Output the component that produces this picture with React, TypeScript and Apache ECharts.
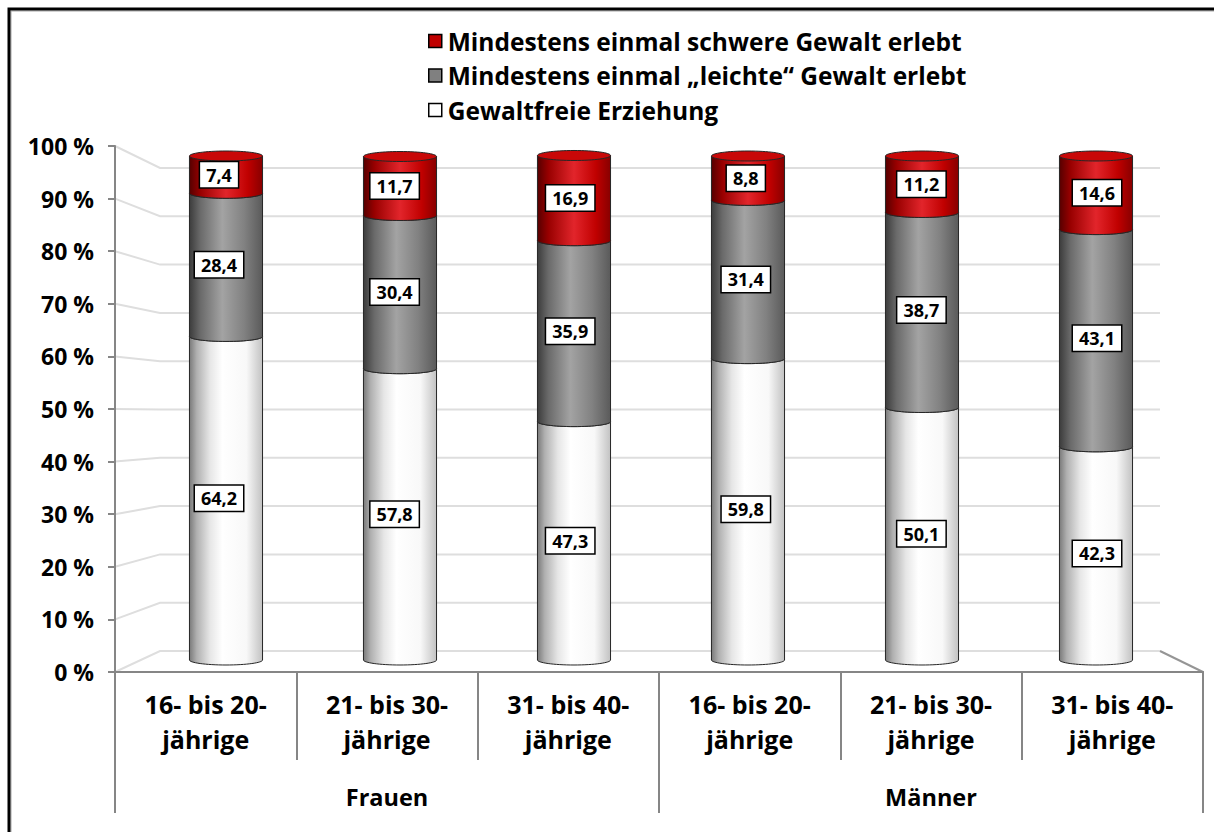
import React, { useEffect, useRef } from 'react';
import * as echarts from 'echarts';

const categories = [
  '16- bis 20-\njährige',
  '21- bis 30-\njährige',
  '31- bis 40-\njährige',
  '16- bis 20-\njährige',
  '21- bis 30-\njährige',
  '31- bis 40-\njährige',
];
const groups = ['Frauen', 'Männer'];
const gewaltfrei = [64.2, 57.8, 47.3, 59.8, 50.1, 42.3];
const leicht = [28.4, 30.4, 35.9, 31.4, 38.7, 43.1];
const schwer = [7.4, 11.7, 16.9, 8.8, 11.2, 14.6];
const seriesNames = [
  'Gewaltfreie Erziehung',
  'Mindestens einmal „leichte“ Gewalt erlebt',
  'Mindestens einmal schwere Gewalt erlebt',
];
const legendOrder = [2, 1, 0];
const yTicks = [0, 10, 20, 30, 40, 50, 60, 70, 80, 90, 100];

const FONT = '"Open Sans", "Noto Sans", sans-serif';

const segStyles = [
  {
    legend: '#ffffff',
    body: [[0, '#7a7a7a'], [0.1, '#b0b0b0'], [0.28, '#e6e6e6'], [0.45, '#ffffff'], [0.78, '#f8f8f8'], [1, '#c2c2c2']],
    cap: '#f0f0f0',
  },
  {
    legend: '#808080',
    body: [[0, '#3c3c3c'], [0.15, '#6a6a6a'], [0.45, '#a3a3a3'], [0.75, '#818181'], [1, '#5a5a5a']],
    cap: '#8c8c8c',
  },
  {
    legend: '#c00000',
    body: [[0, '#560000'], [0.15, '#980000'], [0.5, '#e2252b'], [0.8, '#c00000'], [1, '#870000']],
    cap: '#c80808',
  },
];

const fmt = (v: number) => v.toFixed(1).replace('.', ',');

function buildData(s: number) {
  const arrs = [gewaltfrei, leicht, schwer];
  return categories.map((_, i) => {
    let start = 0;
    for (let k = 0; k < s; k++) start += arrs[k][i];
    const val = arrs[s][i];
    return [i, start, start + val, val];
  });
}

function makeRender(s: number) {
  const st = segStyles[s];
  return (params: any, api: any) => {
    const i = api.value(0);
    const start = api.value(1);
    const end = api.value(2);
    const val = api.value(3);
    const bot = api.coord([i, start]);
    const top = api.coord([i, end]);
    const w = api.size([1, 0])[0] * 0.42;
    const rx = w / 2;
    const ry = 5;
    const cx = bot[0];
    const grad = new echarts.graphic.LinearGradient(
      0, 0, 1, 0,
      st.body.map(([offset, color]) => ({ offset: offset as number, color: color as string }))
    );
    const edge = '#262626';
    const shift = -7 + 1.6 * i;
    return {
      type: 'group',
      children: [
        { type: 'ellipse', shape: { cx, cy: bot[1], rx, ry }, style: { fill: grad, stroke: edge, lineWidth: 1 } },
        { type: 'rect', shape: { x: cx - rx, y: top[1], width: 2 * rx, height: bot[1] - top[1] }, style: { fill: grad } },
        { type: 'line', shape: { x1: cx - rx, y1: top[1], x2: cx - rx, y2: bot[1] }, style: { stroke: edge, lineWidth: 1 } },
        { type: 'line', shape: { x1: cx + rx, y1: top[1], x2: cx + rx, y2: bot[1] }, style: { stroke: edge, lineWidth: 1 } },
        { type: 'ellipse', shape: { cx, cy: top[1], rx, ry }, style: { fill: st.cap, stroke: edge, lineWidth: 1 } },
        {
          type: 'text',
          x: cx + shift,
          y: (top[1] + bot[1]) / 2,
          z2: 20,
          style: {
            text: fmt(val),
            font: `bold 18px ${FONT}`,
            fill: '#000',
            align: 'center',
            verticalAlign: 'middle',
            backgroundColor: '#fff',
            borderColor: '#000',
            borderWidth: 1.5,
            padding: [4, 6, 3, 6],
          },
        },
      ],
    };
  };
}

export default function App() {
  const ref = useRef<HTMLDivElement>(null);
  useEffect(() => {
    if (!ref.current) return;
    const chart = echarts.init(ref.current, undefined, { renderer: 'svg' });
    const axisGrey = '#868686';
    const labelBase = { fontFamily: FONT, fontWeight: 'bold' as const, color: '#000' };
    chart.setOption({
      animation: false,
      backgroundColor: '#ffffff',
      legend: {
        orient: 'vertical',
        left: 423,
        top: 23,
        icon: 'rect',
        itemWidth: 13,
        itemHeight: 13,
        itemGap: 8.5,
        selectedMode: false,
        textStyle: { ...labelBase, fontSize: 24.5, lineHeight: 26, padding: [0, 0, 0, 1] },
        data: legendOrder.map((s) => ({
          name: seriesNames[s],
          itemStyle: { color: segStyles[s].legend, borderColor: '#000', borderWidth: 1.5 },
        })),
      },
      grid: [
        { left: 115, right: 11, top: 146, bottom: 160 },
        { left: 139, right: 31, top: 156, bottom: 172 },
        { left: 160, right: 54, top: 168, bottom: 181 },
      ],
      xAxis: [
        {
          gridIndex: 0,
          type: 'category',
          data: categories,
          position: 'bottom',
          axisLine: { show: true, onZero: false, lineStyle: { color: axisGrey, width: 2 } },
          axisTick: { show: true, alignWithLabel: false, interval: 0, length: 88, lineStyle: { color: axisGrey, width: 2 } },
          axisLabel: { ...labelBase, interval: 0, fontSize: 25, lineHeight: 35, margin: 14 },
        },
        {
          gridIndex: 0,
          type: 'category',
          data: groups,
          position: 'bottom',
          offset: 0,
          axisLine: { show: true, onZero: false, lineStyle: { color: axisGrey, width: 2 } },
          axisTick: { show: true, alignWithLabel: false, interval: 0, length: 141, lineStyle: { color: axisGrey, width: 2 } },
          axisLabel: { ...labelBase, interval: 0, fontSize: 23.5, lineHeight: 34, margin: 108 },
        },
        { gridIndex: 1, type: 'category', data: categories, show: false },
        { gridIndex: 2, type: 'value', min: 0, max: 1, show: false },
        { gridIndex: 0, type: 'value', min: 0, max: 1, show: false },
      ],
      yAxis: [
        {
          gridIndex: 0,
          type: 'value',
          min: 0,
          max: 100,
          interval: 10,
          axisLine: { show: true, onZero: false, lineStyle: { color: axisGrey, width: 2 } },
          axisTick: { show: true, length: 7, lineStyle: { color: axisGrey, width: 2 } },
          splitLine: { show: false },
          axisLabel: { ...labelBase, fontSize: 23, margin: 21, formatter: '{value} %' },
        },
        { gridIndex: 1, type: 'value', min: 0, max: 100, show: false },
        { gridIndex: 2, type: 'value', min: 0, max: 100, show: false },
      ],
      series: [0, 1, 2].map((s) => ({
        type: 'custom',
        name: seriesNames[s],
        xAxisIndex: 2,
        yAxisIndex: 1,
        z: 3 + s,
        itemStyle: { color: segStyles[s].legend, borderColor: '#000', borderWidth: 1.5 },
        encode: { x: 0, y: [1, 2] },
        renderItem: makeRender(s),
        data: buildData(s),
      })),
    });

    const fy = (v: number) => chart.convertToPixel({ yAxisIndex: 0 }, v) as number;
    const by = (v: number) => chart.convertToPixel({ yAxisIndex: 2 }, v) as number;
    const bx0 = chart.convertToPixel({ xAxisIndex: 3 }, 0) as number;
    const bx1 = chart.convertToPixel({ xAxisIndex: 3 }, 1) as number;
    const fx0 = chart.convertToPixel({ xAxisIndex: 4 }, 0) as number;
    const fx1 = chart.convertToPixel({ xAxisIndex: 4 }, 1) as number;

    const gridGraphics: any[] = yTicks.map((v) => ({
      type: 'polyline',
      z: 0,
      shape: { points: [[fx0, fy(v)], [bx0, by(v)], [bx1, by(v)]] },
      style: { stroke: '#dedede', lineWidth: 2, fill: null },
      silent: true,
    }));
    gridGraphics.push({
      type: 'line',
      z: 0,
      shape: { x1: bx1, y1: by(0), x2: fx1, y2: fy(0) },
      style: { stroke: '#959595', lineWidth: 2 },
      silent: true,
    });
    gridGraphics.push({
      type: 'rect',
      z: 100,
      shape: { x: 11, y: 11, width: 1400, height: 1000 },
      style: { stroke: '#a6a6a6', lineWidth: 1, fill: null },
      silent: true,
    });
    gridGraphics.push({
      type: 'rect',
      z: 100,
      shape: { x: 9, y: 9, width: 1400, height: 1000 },
      style: { stroke: '#000', lineWidth: 3, fill: null },
      silent: true,
    });
    chart.setOption({ graphic: gridGraphics });

    return () => chart.dispose();
  }, []);
  return (
    <div
      ref={ref}
      style={{ position: 'absolute', left: 0, top: 0, width: 1214, height: 832 }}
    />
  );
}
